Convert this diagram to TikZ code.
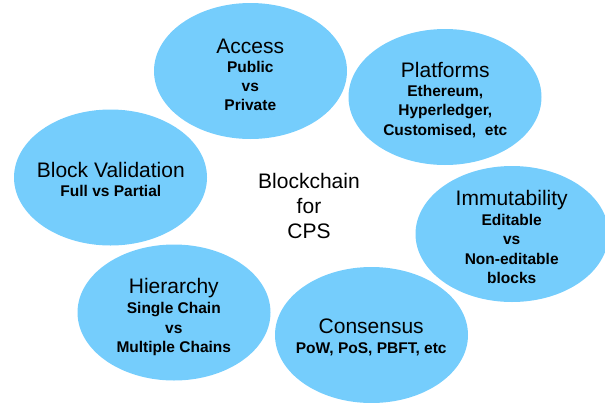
\documentclass[tikz,border=0pt]{standalone}
\usepackage{fontspec}
\setmainfont{Liberation Sans}
\usetikzlibrary{shapes.geometric}
\definecolor{bubble}{RGB}{117,205,252}
\tikzset{
  bub/.style={ellipse, fill=bubble, draw=none, inner sep=0pt, minimum width=193pt, minimum height=136pt},
  ttl/.style={anchor=base, inner sep=0pt, font=\fontsize{21}{25}\selectfont},
  sub/.style={anchor=base, inner sep=0pt, align=center, font=\fontsize{15.5}{19.3}\selectfont\bfseries},
  mid/.style={anchor=base, inner sep=0pt, align=center, font=\fontsize{21}{25}\selectfont}
}
\begin{document}
\begin{tikzpicture}[x=1pt,y=-1pt]
\useasboundingbox (0,0) rectangle (605,402);
% bubbles
\node[bub] (acc) at (250.5,71) {};
\node[bub] (pla) at (445,97) {};
\node[bub] (blk) at (110.5,177.5) {};
\node[bub] (hie) at (174,312.5) {};
\node[bub] (con) at (371.5,335) {};
\node[bub] (imm) at (512,234) {};
% titles
\node[ttl] (accT) at (250.3,53.3) {Access};
\node[ttl] (plaT) at (445.3,77.3) {Platforms};
\node[ttl] (blkT) at (110.8,177.3) {Block Validation};
\node[ttl] (hieT) at (173.8,293.3) {Hierarchy};
\node[ttl] (conT) at (371.2,333.3) {Consensus};
\node[ttl] (immT) at (511.7,205.7) {Immutability};
% sub texts (anchored at the baseline of their last line)
\node[sub] (accS) at (250.3,110.7) {Public\\vs\\Private};
\node[sub] (plaS) at (445.3,135) {Ethereum,\\Hyperledger,\\Customised,\ \ etc};
\node[sub] (blkS) at (110.8,196.7) {Full vs Partial};
\node[sub] (hieS) at (173.8,352.3) {Single Chain\\vs\\Multiple Chains};
\node[sub] (conS) at (371.2,353.3) {PoW, PoS, PBFT, etc};
\node[sub] (immS) at (511.7,283.3) {Editable\\vs\\Non-editable\\blocks};
% centre
\node[mid] (ctr) at (309,238) {Blockchain\\for\\CPS};
\end{tikzpicture}
\end{document}
